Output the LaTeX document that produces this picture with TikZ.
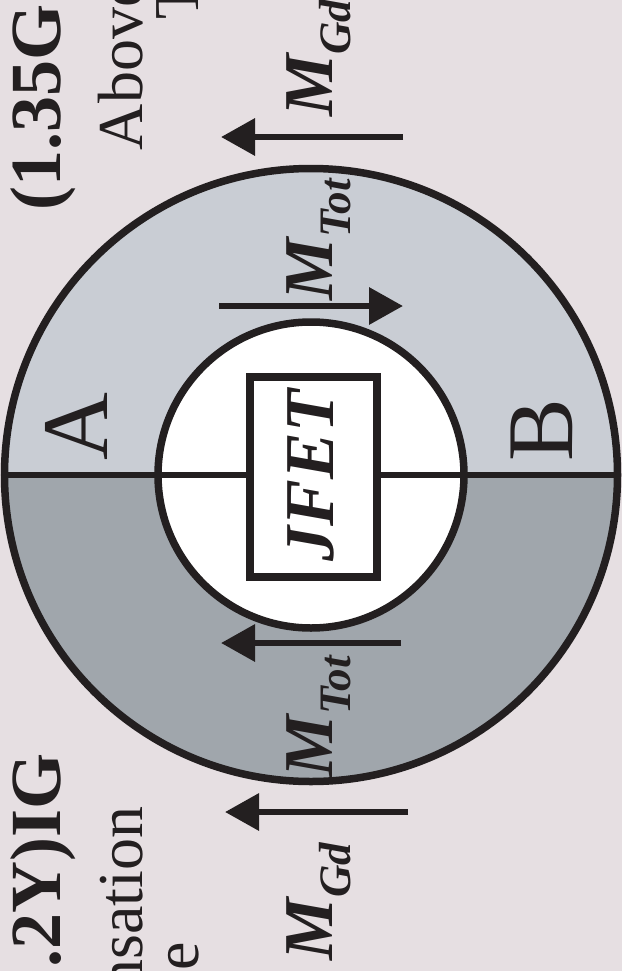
\documentclass[tikz,border=0pt]{standalone}
\usepackage{fontspec}
\setmainfont{Liberation Serif}
\usetikzlibrary{arrows.meta}
\definecolor{bgc}{RGB}{230,223,226}
\definecolor{lightfill}{RGB}{201,205,212}
\definecolor{darkfill}{RGB}{160,166,172}
\definecolor{ink}{RGB}{35,31,32}
\tikzset{
  ring/.style={circle, draw=ink, line width=7.5pt, inner sep=0pt, outer sep=0pt, minimum size=#1},
  marrow/.style={draw=ink, line width=6.5pt, -{Triangle[length=34pt,width=36pt]}},
  rottext/.style={rotate=90, inner sep=0pt, outer sep=0pt, text=ink},
  titlefont/.style={font=\fontsize{72}{80}\selectfont\bfseries},
  bodyfont/.style={font=\fontsize{64}{70}\selectfont},
  mfont/.style={font=\fontsize{70}{80}\selectfont\bfseries\itshape},
  bigletter/.style={font=\fontsize{94}{100}\selectfont},
}
\newcommand{\subsc}[1]{\raisebox{-18pt}{\fontsize{45}{50}\selectfont #1}}
\begin{document}
\begin{tikzpicture}[x=1pt,y=-1pt]
\useasboundingbox (0,0) rectangle (622,971);
\clip (0,0) rectangle (622,971);
\fill[bgc] (0,0) rectangle (622,971);
% halves
\coordinate (O) at (311,475);
\begin{scope}
\clip (0,0) rectangle (622,475);
\fill[lightfill] (O) circle (306.5);
\end{scope}
\begin{scope}
\clip (0,475) rectangle (622,971);
\fill[darkfill] (O) circle (306.5);
\end{scope}
\fill[white] (O) circle (153);
% outlines
\node[ring=613pt] (outer) at (O) {};
\draw[ink, line width=6pt] (outer.west) -- (outer.east);
\node[ring=306pt] (inner) at (O) {};
\node[draw=ink, fill=white, line width=8pt, minimum width=126.7pt, minimum height=199.2pt, inner sep=0pt, outer sep=0pt] (jfetbox) at (313.3,477) {};
\node[rottext, mfont, anchor=base] (jfet) at (333,475.5) {JFET};
% A and B
\node[rottext, bigletter, anchor=base] (A) at (107,427) {A};
\node[rottext, bigletter, anchor=base] (B) at (572,430) {B};
% arrows
\coordinate (a1s) at (403,137); \coordinate (a1e) at (221,137);
\coordinate (a2s) at (219,306); \coordinate (a2e) at (403,306);
\coordinate (a3s) at (401,643); \coordinate (a3e) at (221,643);
\coordinate (a4s) at (408,812); \coordinate (a4e) at (225,812);
\draw[marrow] (a1s) -- (a1e);
\draw[marrow] (a2s) -- (a2e);
\draw[marrow] (a3s) -- (a3e);
\draw[marrow] (a4s) -- (a4e);
% M labels
\node[rottext, mfont, anchor=base west] (mgd1) at (332,117) {M\subsc{Gd}};
\node[rottext, mfont, anchor=base west] (mtot1) at (332,300) {M\subsc{Tot}};
\node[rottext, mfont, anchor=base west] (mtot2) at (332,777) {M\subsc{Tot}};
\node[rottext, mfont, anchor=base west] (mgd2) at (332,960) {M\subsc{Gd}};
% upper text block
\node[rottext, titlefont, anchor=base west] (t1) at (60,210) {(1.35G};
\node[rottext, bodyfont, anchor=base west] (t2) at (142,150) {Above};
\node[rottext, bodyfont, anchor=base west] (t3) at (198,20) {T};
% lower text block
\node[rottext, titlefont, anchor=base east] (b1) at (60,753) {.2Y)IG};
\node[rottext, bodyfont, anchor=base east] (b2) at (142,807) {nsation};
\node[rottext, bodyfont, anchor=base east] (b3) at (198,942) {e};
\end{tikzpicture}
\end{document}
